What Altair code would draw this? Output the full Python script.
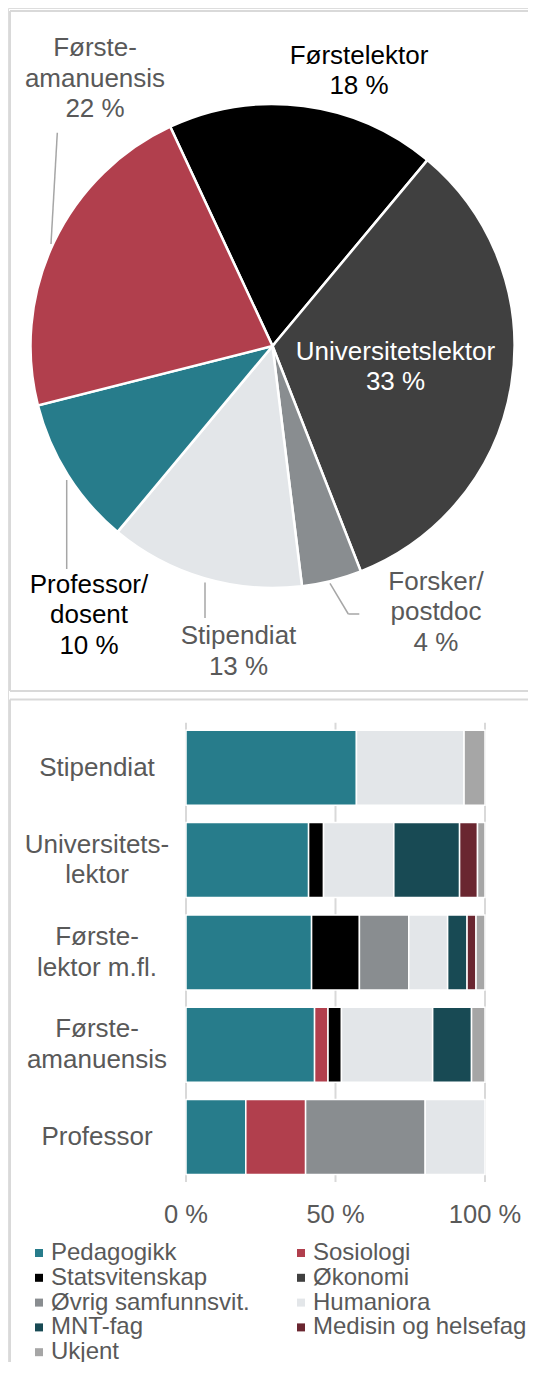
import math
import altair as alt
import pandas as pd

FONT = "Liberation Sans"
GRAY_TXT = "#595959"

# ---------------- Pie data ----------------
pie_roles = ["Førstelektor", "Universitetslektor", "Forsker/postdoc",
             "Stipendiat", "Professor/dosent", "Førsteamanuensis"]
pie_shares = [18, 33, 4, 13, 10, 22]
pie_label_names = ["Førstelektor", "Universitetslektor", "Forsker/\npostdoc",
                   "Stipendiat", "Professor/\ndosent", "Første-\namanuensis"]
pie_colors = ["#000000", "#404040", "#898D90", "#E3E6E9", "#277C8B", "#B13F4D"]

# ---------------- Bar data ----------------
bar_groups = ["Stipendiat", "Universitetslektor", "Førstelektor m.fl.",
              "Førsteamanuensis", "Professor"]
bar_group_labels = ["Stipendiat", "Universitets-\nlektor", "Første-\nlektor m.fl.",
                    "Første-\namanuensis", "Professor"]
fields = ["Pedagogikk", "Sosiologi", "Statsvitenskap", "Økonomi",
          "Øvrig samfunnsvit.", "Humaniora", "MNT-fag",
          "Medisin og helsefag", "Ukjent"]
field_colors = ["#277C8B", "#B13F4D", "#000000", "#404040", "#898D90",
                "#E3E6E9", "#184A54", "#6A2630", "#A6A6A6"]

pedagogikk = [57, 41, 42, 43, 20]
sosiologi = [0, 0, 0, 4.5, 20]
statsvitenskap = [0, 5, 16, 4.5, 0]
okonomi = [0, 0, 0, 0, 0]
ovrig_samf = [0, 0, 16.5, 0, 40]
humaniora = [36, 23.5, 13, 30.5, 20]
mnt_fag = [0, 22, 6.5, 13, 0]
medisin = [0, 6, 3, 0, 0]
ukjent = [7, 2.5, 3, 4.5, 0]
series = [pedagogikk, sosiologi, statsvitenskap, okonomi, ovrig_samf,
          humaniora, mnt_fag, medisin, ukjent]

tick_values = [0, 50, 100]
tick_labels = ["0 %", "50 %", "100 %"]

# ---------------- Tables ----------------
pie_df = pd.DataFrame({"role": pie_roles, "share": pie_shares,
                       "ridx": list(range(len(pie_roles)))})

rows = []
for gi, g in enumerate(bar_groups):
    for fi, f in enumerate(fields):
        v = series[fi][gi]
        if v > 0:
            rows.append({"group": g, "field": f, "fidx": fi, "value": v})
bar_df = pd.DataFrame(rows)

one_line = [(g, l) for g, l in zip(bar_groups, bar_group_labels) if "\n" not in l]
two_line = [(g, l) for g, l in zip(bar_groups, bar_group_labels) if "\n" in l]
ylab1_df = pd.DataFrame(one_line, columns=["group", "label"])
ylab2_df = pd.DataFrame(two_line, columns=["group", "label"])
tick_df = pd.DataFrame({"tick": tick_values, "label": tick_labels})

# legend is filled column by column: reorder so it reads row by row
legend_order = [fields[i] for i in range(0, len(fields), 2)] + \
               [fields[i] for i in range(1, len(fields), 2)]
legend_colors = [field_colors[fields.index(f)] for f in legend_order]

# ---------------- Layout (view px) ----------------
W, H = 520, 1354
PIE_CX, PIE_CY, PIE_R = 264.5, 338, 242
start = math.radians(-25) + 2 * math.pi
LH = 30.5

xscale = alt.Scale(domain=[0, 100], range=[178, 477], nice=False, zero=True)
yscale = alt.Scale(domain=bar_groups, range=[713.65, 1175.15],
                   paddingInner=0.1875, paddingOuter=0.09375)

# ---------------- Pie ----------------
pie = alt.Chart(pie_df).mark_arc(radius=PIE_R, stroke="white", strokeWidth=2.5).encode(
    theta=alt.Theta("share:Q", stack=True,
                    scale=alt.Scale(range=[start, start + 2 * math.pi])),
    color=alt.Color("role:N", scale=alt.Scale(domain=pie_roles, range=pie_colors),
                    legend=None),
    order=alt.Order("ridx:Q", sort="ascending"),
    x=alt.value(PIE_CX),
    y=alt.value(PIE_CY),
)

label_layout = {
    "Førstelektor": (351, 47.8, "#000000"),
    "Universitetslektor": (387.5, 343.7, "#FFFFFF"),
    "Forsker/postdoc": (428, 573.7, GRAY_TXT),
    "Stipendiat": (230.5, 628, GRAY_TXT),
    "Professor/dosent": (81, 576.8, "#000000"),
    "Førsteamanuensis": (87, 40.3, GRAY_TXT),
}
pie_labels = []
for role, name, share in zip(pie_roles, pie_label_names, pie_shares):
    lx, ly, col = label_layout[role]
    d = pd.DataFrame({"t": [f"{name}\n{share} %"]})
    pie_labels.append(
        alt.Chart(d).mark_text(font=FONT, fontSize=26, color=col, align="center",
                               baseline="middle", lineBreak="\n", lineHeight=LH)
        .encode(text="t:N", x=alt.value(lx), y=alt.value(ly))
    )

leader_segments = [
    (49.3, 124.7, 43, 236),
    (322, 575.3, 340.3, 606),
    (340.3, 606, 351.3, 606),
    (197, 574.6, 197, 610),
    (58.7, 472, 58.7, 561),
]
leaders = []
for x1, y1, x2, y2 in leader_segments:
    leaders.append(
        alt.Chart(pd.DataFrame({"k": [0]})).mark_rule(color="#A6A6A6", strokeWidth=1.5)
        .encode(x=alt.value(x1), y=alt.value(y1), x2=alt.value(x2), y2=alt.value(y2))
    )

border_segments = [
    (2, 3, W, 3), (2, 3, 2, 683), (2, 683, W, 683),
    (2, 691.5, W, 691.5), (2, 691.5, 2, H),
]
borders = []
for x1, y1, x2, y2 in border_segments:
    borders.append(
        alt.Chart(pd.DataFrame({"k": [0]})).mark_rule(color="#D9D9D9", strokeWidth=2)
        .encode(x=alt.value(x1), y=alt.value(y1), x2=alt.value(x2), y2=alt.value(y2))
    )

# ---------------- Bars ----------------
grid = alt.Chart(tick_df).mark_rule(color="#D9D9D9", strokeWidth=2).encode(
    x=alt.X("tick:Q", scale=xscale, axis=None),
    y=alt.value(714.7),
    y2=alt.value(1174),
)

bars = alt.Chart(bar_df).mark_bar(stroke="white", strokeWidth=1.5).encode(
    x=alt.X("value:Q", stack="zero", scale=xscale, axis=None),
    y=alt.Y("group:N", scale=yscale, axis=None),
    color=alt.Color(
        "field:N",
        scale=alt.Scale(domain=legend_order, range=legend_colors),
        title=None,
        legend=alt.Legend(
            orient="none", legendX=19, legendY=1233, columns=2,
            columnPadding=39, rowPadding=0.8, symbolType="square",
            symbolSize=64, symbolStrokeWidth=0, symbolOpacity=1,
            labelFontSize=24, labelFont=FONT, labelColor=GRAY_TXT,
            labelLimit=400, labelOffset=0, padding=0,
        ),
    ),
    order=alt.Order("fidx:Q", sort="ascending"),
)

ticks_text = alt.Chart(tick_df).mark_text(
    font=FONT, fontSize=25.5, color=GRAY_TXT, align="center", baseline="middle"
).encode(
    x=alt.X("tick:Q", scale=xscale, axis=None),
    y=alt.value(1206.8),
    text="label:N",
)

ylabels1 = alt.Chart(ylab1_df).mark_text(
    font=FONT, fontSize=26, color=GRAY_TXT, align="center", baseline="middle"
).encode(
    y=alt.Y("group:N", scale=yscale, axis=None),
    x=alt.value(89),
    text="label:N",
)
ylabels2 = alt.Chart(ylab2_df).mark_text(
    font=FONT, fontSize=26, color=GRAY_TXT, align="center", baseline="middle",
    lineBreak="\n", lineHeight=LH, dy=-LH / 2
).encode(
    y=alt.Y("group:N", scale=yscale, axis=None),
    x=alt.value(89),
    text="label:N",
)

chart = alt.layer(
    *borders, pie, *leaders, *pie_labels, grid, bars, ticks_text, ylabels1, ylabels2
).resolve_scale(color="independent").properties(
    width=W, height=H, autosize=alt.AutoSizeParams(type="none"), padding=0
).configure_view(stroke=None).configure(font=FONT)

chart.save("out.html", embed_options={"renderer": "svg", "actions": False})
